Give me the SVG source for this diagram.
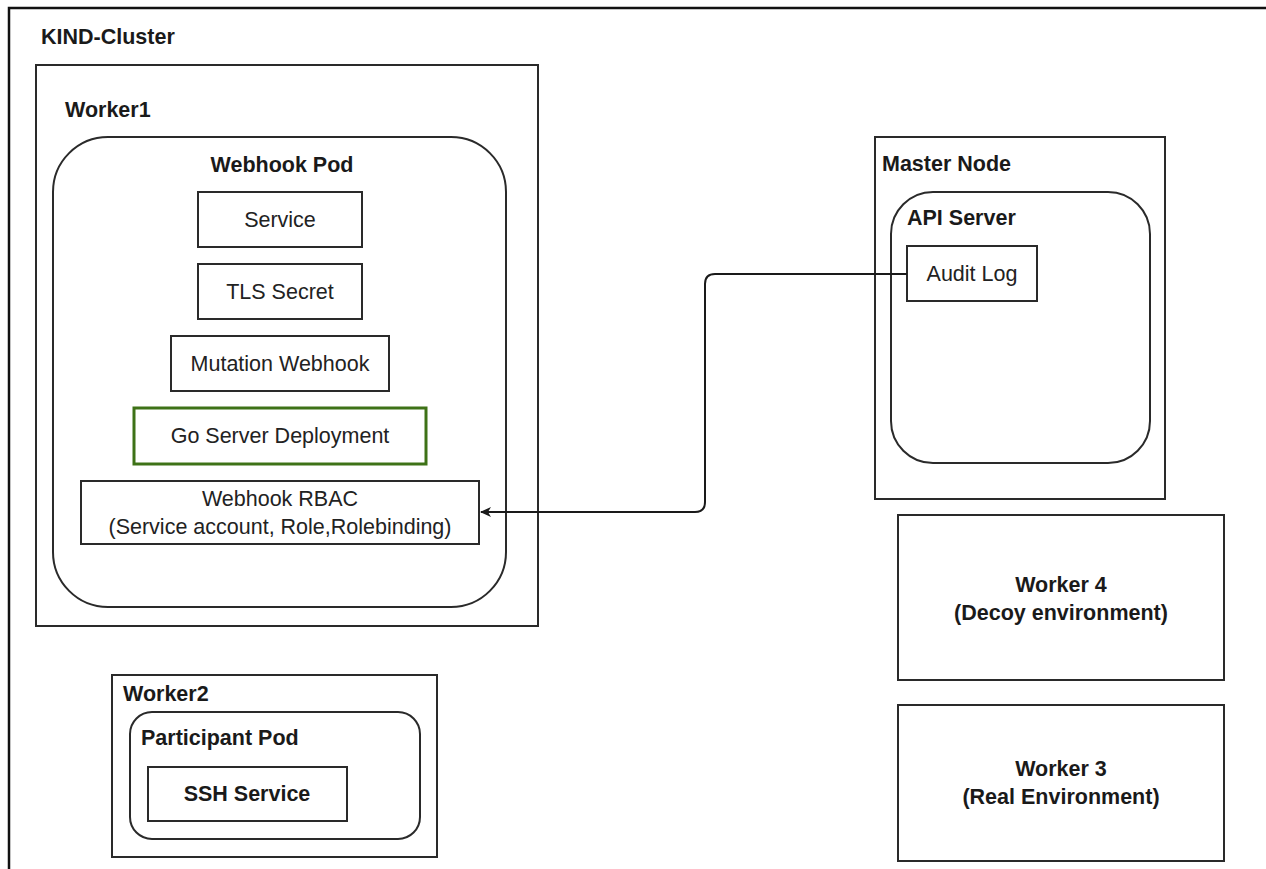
<svg xmlns="http://www.w3.org/2000/svg" width="1266" height="869" viewBox="0 0 1266 869">
<style>
.box{fill:#fff;stroke:#2a2a2a;stroke-width:2}
.green{fill:#fff;stroke:#3e7217;stroke-width:3}
.b{font-family:"Liberation Sans",Arial,sans-serif;font-weight:bold;font-size:21.5px;fill:#1a1a1a}
.t{font-family:"Liberation Sans",Arial,sans-serif;font-size:21.5px;fill:#222}
.c{text-anchor:middle;dominant-baseline:central}
.edge{fill:none;stroke:#1a1a1a;stroke-width:2}
</style>
<defs>
<marker id="arr" markerWidth="12" markerHeight="12" refX="10" refY="6" orient="auto" markerUnits="userSpaceOnUse">
<path d="M0,1 L11,6 L0,11 L3,6 Z" fill="#1a1a1a"/>
</marker>
</defs>
<rect width="1266" height="869" fill="#fff"/>
<g id="kind-cluster">
<rect x="9" y="8" width="1280" height="880" fill="none" stroke="#111" stroke-width="2.5"/>
<text class="b" x="41" y="44">KIND-Cluster</text>
</g>
<g id="worker1">
<rect class="box" x="36" y="65" width="502" height="561"/>
<text class="b" x="65" y="117">Worker1</text>
</g>
<g id="webhook-pod">
<rect class="box" x="53" y="137" width="453" height="470" rx="55" ry="55"/>
<text class="b" x="282" y="172" text-anchor="middle">Webhook Pod</text>
</g>
<g id="service">
<rect class="box" x="198" y="192" width="164" height="55"/>
<text class="t c" x="280" y="219.5">Service</text>
</g>
<g id="tls-secret">
<rect class="box" x="198" y="264" width="164" height="55"/>
<text class="t c" x="280" y="291.5">TLS Secret</text>
</g>
<g id="mutation-webhook">
<rect class="box" x="171" y="336" width="218" height="55"/>
<text class="t c" x="280" y="363.5">Mutation Webhook</text>
</g>
<g id="go-server">
<rect class="green" x="134" y="408" width="292" height="56"/>
<text class="t c" x="280" y="436">Go Server Deployment</text>
</g>
<g id="webhook-rbac">
<rect class="box" x="81" y="481" width="398" height="63"/>
<text class="t c" x="280" y="499">Webhook RBAC</text>
<text class="t c" x="280" y="527">(Service account, Role,Rolebinding)</text>
</g>
<g id="worker2">
<rect class="box" x="112" y="675" width="325" height="182"/>
<text class="b" x="123" y="701">Worker2</text>
</g>
<g id="participant-pod">
<rect class="box" x="130" y="712" width="290" height="127" rx="22" ry="22"/>
<text class="b" x="141" y="745">Participant Pod</text>
</g>
<g id="ssh-service">
<rect class="box" x="148" y="767" width="199" height="54"/>
<text class="b c" x="247" y="794">SSH Service</text>
</g>
<g id="master-node">
<rect class="box" x="875" y="137" width="290" height="362"/>
<text class="b" x="882" y="171">Master Node</text>
</g>
<g id="api-server">
<rect class="box" x="891" y="192" width="259" height="271" rx="42" ry="42"/>
<text class="b" x="907" y="225">API Server</text>
</g>
<g id="audit-log">
<rect class="box" x="907" y="246" width="130" height="55"/>
<text class="t c" x="972" y="273.5">Audit Log</text>
</g>
<g id="worker4">
<rect class="box" x="898" y="515" width="326" height="165"/>
<text class="b c" x="1061" y="585">Worker 4</text>
<text class="b c" x="1061" y="613">(Decoy environment)</text>
</g>
<g id="worker3">
<rect class="box" x="898" y="705" width="326" height="156"/>
<text class="b c" x="1061" y="769">Worker 3</text>
<text class="b c" x="1061" y="797">(Real Environment)</text>
</g>
<g id="connectors">
<path class="edge" d="M907,274 H715 Q705,274 705,284 V502 Q705,512 695,512 H481" marker-end="url(#arr)"/>
</g>
</svg>
